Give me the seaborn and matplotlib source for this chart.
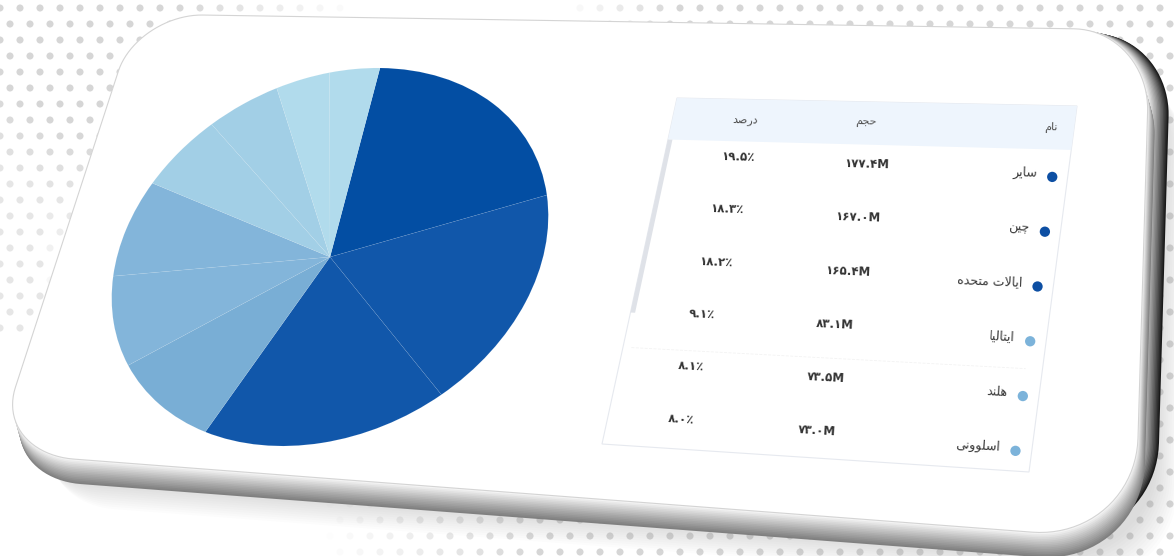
import numpy as np
import matplotlib
matplotlib.use('Agg')
import matplotlib.pyplot as plt
from matplotlib.transforms import Affine2D
import seaborn as sns

# ====================== data ======================
names = ['سایر', 'چین', 'ایالات متحده', 'ایتالیا', 'هلند', 'اسلوونی']
volumes_m = [177.4, 167.0, 165.4, 83.1, 73.5, 73.0]
shares_pct = [19.5, 18.3, 18.2, 9.1, 8.1, 8.0]
# slices that are only visible in the pie (table rows are scrolled away)
hidden_shares = [6.0, 5.2, 3.9, 3.7]
header = ['نام', 'حجم', 'درصد']

slice_colors = ['#034ea3', '#1157aa', '#1157aa', '#79aed5', '#83b5da', '#83b5da',
                '#a2cfe6', '#a2cfe6', '#b1dbec', '#b1dbec']
dot_colors = ['#0d4fa3', '#0d4fa3', '#0d4fa3', '#7cb3da', '#7cb3da', '#7cb3da']

# ====================== persian helpers ======================
FA_DIGITS = str.maketrans('0123456789', '۰۱۲۳۴۵۶۷۸۹')

# isolated, final, initial, medial
FORMS = {
    'ا': ('\uFE8D', '\uFE8E', None, None),
    'ت': ('\uFE95', '\uFE96', '\uFE97', '\uFE98'),
    'ج': ('\uFE9D', '\uFE9E', '\uFE9F', '\uFEA0'),
    'چ': ('\uFB7A', '\uFB7B', '\uFB7C', '\uFB7D'),
    'ح': ('\uFEA1', '\uFEA2', '\uFEA3', '\uFEA4'),
    'د': ('\uFEA9', '\uFEAA', None, None),
    'ر': ('\uFEAD', '\uFEAE', None, None),
    'س': ('\uFEB1', '\uFEB2', '\uFEB3', '\uFEB4'),
    'ص': ('\uFEB9', '\uFEBA', '\uFEBB', '\uFEBC'),
    'ل': ('\uFEDD', '\uFEDE', '\uFEDF', '\uFEE0'),
    'م': ('\uFEE1', '\uFEE2', '\uFEE3', '\uFEE4'),
    'ن': ('\uFEE5', '\uFEE6', '\uFEE7', '\uFEE8'),
    'ه': ('\uFEE9', '\uFEEA', '\uFEEB', '\uFEEC'),
    'و': ('\uFEED', '\uFEEE', None, None),
    'ی': ('\uFBFC', '\uFBFD', '\uFBFE', '\uFBFF'),
}


def joins_fwd(ch):
    return ch in FORMS and FORMS[ch][2] is not None


def shape_fa(word):
    """contextual forms + visual (reversed) order, matplotlib has no bidi"""
    out = []
    i = 0
    n = len(word)
    while i < n:
        ch = word[i]
        if ch not in FORMS:
            out.append(ch)
            i += 1
            continue
        jp = i > 0 and joins_fwd(word[i - 1])
        if ch == 'ل' and i + 1 < n and word[i + 1] == 'ا':
            out.append('\uFEFC' if jp else '\uFEFB')
            i += 2
            continue
        jn = joins_fwd(ch) and i + 1 < n and word[i + 1] in FORMS
        iso, fin, ini, med = FORMS[ch]
        if jp and jn:
            out.append(med)
        elif jp:
            out.append(fin)
        elif jn:
            out.append(ini)
        else:
            out.append(iso)
        i += 1
    return ''.join(reversed(out))


# ====================== geometry helpers ======================
W, H = 1174, 556
CARD = [(137, 14), (1150, 30), (1135, 540), (-6, 453)]      # tl, tr, br, bl
TABLE = [(677, 98), (1077, 106), (1029, 472), (602, 444)]


def warp(quad, u, v):
    tl, tr, br, bl = [np.array(p, float) for p in quad]
    u = np.asarray(u, float)[..., None]
    v = np.asarray(v, float)[..., None]
    top = tl + (tr - tl) * u
    bot = bl + (br - bl) * u
    p = top + (bot - top) * v
    return p[..., 0], p[..., 1]


def slope_deg(quad, v):
    tl, tr, br, bl = [np.array(p, float) for p in quad]
    d = (1 - v) * (tr - tl) + v * (br - bl)
    return -np.degrees(np.arctan2(d[1], d[0]))


def rounded_rect(radii, n=24):
    # radii: per corner (rs, rt) for tr, br, bl, tl in flat coords (t down)
    (r1, r2, r3, r4) = radii
    pts = []
    specs = [((1 - r1[0], r1[1]), r1, -90, 0),
             ((1 - r2[0], 1 - r2[1]), r2, 0, 90),
             ((r3[0], 1 - r3[1]), r3, 90, 180),
             ((r4[0], r4[1]), r4, 180, 270)]
    for (cx, cy), (rs, rt), a0, a1 in specs:
        th = np.radians(np.linspace(a0, a1, n))
        pts.append(np.c_[cx + rs * np.cos(th), cy + rt * np.sin(th)])
    return np.vstack(pts)


# ====================== figure ======================
sns.set_theme(style='white')
plt.rcParams['font.family'] = ['DejaVu Sans']

fig = plt.figure(figsize=(W / 100, H / 100), dpi=100)
ax = fig.add_axes([0, 0, 1, 1])

# background dot pattern
gx, gy = np.meshgrid(np.arange(-10, W + 20, 20.0), np.arange(-8, H + 16, 16.0))
gx = gx + (np.arange(gx.shape[0])[:, None] % 2) * 10
gx, gy = gx.ravel(), gy.ravel()
alpha = np.clip(1.5 - np.hypot(gx - 90, gy - 40) / 180, 0, 1)
alpha = np.maximum(alpha, np.clip((gx - 560) / 120, 0, 1) * (gy < 60))
alpha = np.maximum(alpha, np.clip((gx - 1120) / 30, 0, 1))
alpha = np.maximum(alpha, np.clip((gx - 320) / 220, 0, 1) * (gy > 470))
alpha = np.maximum(alpha, 0.6 * ((gx < 50) & (gy > 150) & (gy < 330)))
rgba = np.zeros((gx.size, 4))
rgba[:, :3] = 0.84
rgba[:, 3] = alpha
ax.scatter(gx, gy, s=26, c=rgba, linewidths=0, zorder=1)

# card: soft shadow, side thickness, face
flat = rounded_rect([(0.075, 0.16), (0.09, 0.2), (0.07, 0.15), (0.065, 0.13)])
cx, cy = warp(CARD, flat[:, 0], flat[:, 1])
for f in np.linspace(1, 0, 12):
    ax.fill(cx + 18 + 22 * f, cy + 24 + 26 * f, color='#8a8a8a', alpha=0.025,
            lw=0, zorder=2)
# right side: dark edge
for f in np.linspace(1, 0, 16):
    g = 1 - 0.9 * f ** 1.1
    ax.fill(cx + 21 * f, cy + 5 * f, color=(g, g, g), lw=0, zorder=3)
# bottom side: mid grey band
for f in np.linspace(1, 0, 16):
    g = 1 - 0.5 * f ** 0.9
    ax.fill(cx + 7 * f, cy + 25 * f, color=(g, g, g), lw=0, zorder=3)
ax.fill(cx, cy, facecolor='white', edgecolor='#d4d4d4', lw=0.8, zorder=4)

# pie (flat pie tilted onto the card with an affine map)
wedges, _ = ax.pie(shares_pct + hidden_shares, colors=slice_colors, startangle=90,
                   counterclock=False,
                   wedgeprops=dict(linewidth=0.4, edgecolor=(1, 1, 1, 0.1)))
pie_tr = Affine2D(np.array([[212.5, 50, 330], [2.2, -189, 257], [0, 0, 1]])) + ax.transData
for w in wedges:
    w.set_transform(pie_tr)
    w.set_zorder(5)

# table frame
tx, ty = warp(TABLE, [0, 1, 1, 0], [0, 0, 1, 1])
ax.fill(tx, ty, facecolor='white', edgecolor='#e6e9ef', lw=0.8, zorder=5)
hx, hy = warp(TABLE, [0, 1, 1, 0], [0, 0, 0.12, 0.12])
ax.fill(hx, hy, facecolor='#eef5fd', lw=0, zorder=5)
sx, sy = warp(TABLE, [0.0, 0.011, 0.011, 0.0], [0.12, 0.12, 0.62, 0.62])
ax.fill(sx, sy, facecolor='#dfe2e8', lw=0, zorder=5)
lx, ly = warp(TABLE, [0.02, 0.96], [0.72, 0.72])
ax.plot(lx, ly, color='#f3f3f3', lw=0.6, ls='--', zorder=5)

# header
hv = 0.06
for txt, u, ha in [(header[0], 0.958, 'right'), (header[1], 0.456, 'left'),
                   (header[2], 0.15, 'left')]:
    px, py = warp(TABLE, u, hv)
    ax.text(float(px), float(py), shape_fa(txt), ha=ha, va='center', fontsize=8,
            color='#4d4d4d', rotation=slope_deg(TABLE, hv), rotation_mode='anchor',
            zorder=6)

# rows
row_v = 0.195 + 0.15 * np.arange(len(names))
for i, name in enumerate(names):
    v = row_v[i]
    rot = slope_deg(TABLE, v)
    px, py = warp(TABLE, 0.924, v - 0.008)
    ax.text(float(px), float(py), shape_fa(name), ha='right', va='center',
            fontsize=9, color='#3a3a3a', rotation=rot, rotation_mode='anchor', zorder=6)
    px, py = warp(TABLE, 0.447, v - 0.02)
    ax.text(float(px), float(py), f'{volumes_m[i]:.1f}'.translate(FA_DIGITS) + 'M',
            ha='left', va='center', fontsize=8.5, fontweight='bold', color='#333333',
            rotation=rot, rotation_mode='anchor', zorder=6)
    px, py = warp(TABLE, 0.14, v - 0.03)
    ax.text(float(px), float(py), f'{shares_pct[i]:.1f}'.translate(FA_DIGITS) + '٪',
            ha='left', va='center', fontsize=8.5, fontweight='bold', color='#333333',
            rotation=rot, rotation_mode='anchor', zorder=6)

dx, dy = warp(TABLE, np.full(len(names), 0.962), row_v)
sns.scatterplot(x=dx, y=dy, hue=names, palette=dict(zip(names, dot_colors)), s=55,
                linewidth=0, legend=False, ax=ax, zorder=6)

ax.set_aspect('auto')
ax.set_xlim(0, W)
ax.set_ylim(H, 0)
ax.axis('off')

fig.savefig('out.png', dpi=100)
